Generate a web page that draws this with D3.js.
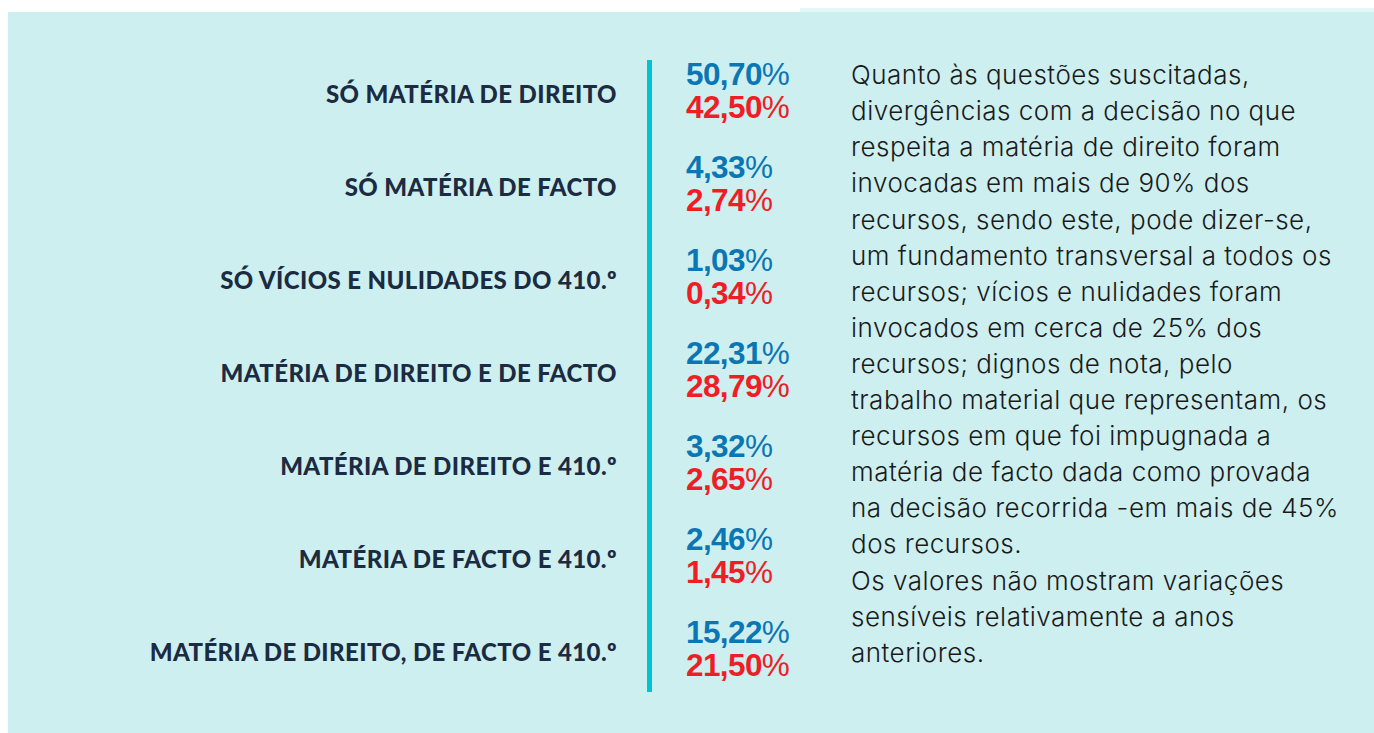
<!DOCTYPE html>
<html>
<head>
<meta charset="utf-8">
<script src="https://cdn.jsdelivr.net/npm/d3@7"></script>
<style>
  body { margin: 0; background: #ffffff; }
</style>
</head>
<body>
<script>
// categories and the two series (shares of appeals, %)
var categories = [
  'SÓ MATÉRIA DE DIREITO',
  'SÓ MATÉRIA DE FACTO',
  'SÓ VÍCIOS E NULIDADES DO 410.º',
  'MATÉRIA DE DIREITO E DE FACTO',
  'MATÉRIA DE DIREITO E 410.º',
  'MATÉRIA DE FACTO E 410.º',
  'MATÉRIA DE DIREITO, DE FACTO E 410.º'
];
var blueValues = [50.70, 4.33, 1.03, 22.31, 3.32, 2.46, 15.22];
var redValues = [42.50, 2.74, 0.34, 28.79, 2.65, 1.45, 21.50];

var noteLines = [
  'Quanto às questões suscitadas,',
  'divergências com a decisão no que',
  'respeita a matéria de direito foram',
  'invocadas em mais de 90% dos',
  'recursos, sendo este, pode dizer-se,',
  'um fundamento transversal a todos os',
  'recursos; vícios e nulidades foram',
  'invocados em cerca de 25% dos',
  'recursos; dignos de nota, pelo',
  'trabalho material que representam, os',
  'recursos em que foi impugnada a',
  'matéria de facto dada como provada',
  'na decisão recorrida -em mais de 45%',
  'dos recursos.',
  'Os valores não mostram variações',
  'sensíveis relativamente a anos',
  'anteriores.'
];

var width = 1374, height = 733;

var svg = d3.select('body').append('svg')
  .attr('width', width)
  .attr('height', height);

// panel background
svg.append('rect')
  .attr('x', 800).attr('y', 8)
  .attr('width', width - 800).attr('height', 6)
  .style('fill', '#e4f6f7');
svg.append('rect')
  .attr('x', 8).attr('y', 12)
  .attr('width', width - 8).attr('height', height - 12)
  .style('fill', '#ceeff0');

var y = d3.scalePoint()
  .domain(categories)
  .range([90, 648]);

var fmt = function(v) { return d3.format('.2f')(v).replace('.', ','); };

// divider
svg.append('rect')
  .attr('x', 647).attr('y', 60)
  .attr('width', 5).attr('height', 632)
  .style('fill', '#00c4cf');

// category labels
svg.append('g').selectAll('text')
  .data(categories)
  .enter().append('text')
  .attr('x', 617)
  .attr('y', function(d) { return y(d) + 5; })
  .attr('dy', '0.35em')
  .style('text-anchor', 'end')
  .style('font-family', 'Lato')
  .style('font-weight', 900)
  .style('font-size', '24px')
  .style('letter-spacing', '0.4px')
  .style('fill', '#1b2b42')
  .text(function(d) { return d; });

function valueRow(values, color, offset) {
  var t = svg.append('g').selectAll('text')
    .data(values)
    .enter().append('text')
    .attr('x', 686)
    .attr('y', function(d, i) { return y(categories[i]) + offset; })
    .attr('dy', '0.35em')
    .style('font-family', '"Liberation Sans Narrow", "Liberation Sans", sans-serif')
    .style('font-size', '31.5px')
    .style('letter-spacing', '-0.6px')
    .style('fill', color);
  t.append('tspan')
    .style('font-weight', 700)
    .text(function(d) { return fmt(d); });
  t.append('tspan')
    .style('font-weight', 400)
    .text('%');
}
valueRow(blueValues, '#0a76b4', -16);
valueRow(redValues, '#ee1d26', 17);

// commentary text
svg.append('g').selectAll('text')
  .data(noteLines)
  .enter().append('text')
  .attr('x', 851)
  .attr('y', function(d, i) { return 75 + i * 36.1; })
  .attr('dy', '0.35em')
  .style('font-family', 'Inter')
  .style('font-weight', 300)
  .style('font-size', '26px')
  .style('letter-spacing', '0.5px')
  .style('fill', '#1a1a1a')
  .text(function(d) { return d; });
</script>
</body>
</html>
